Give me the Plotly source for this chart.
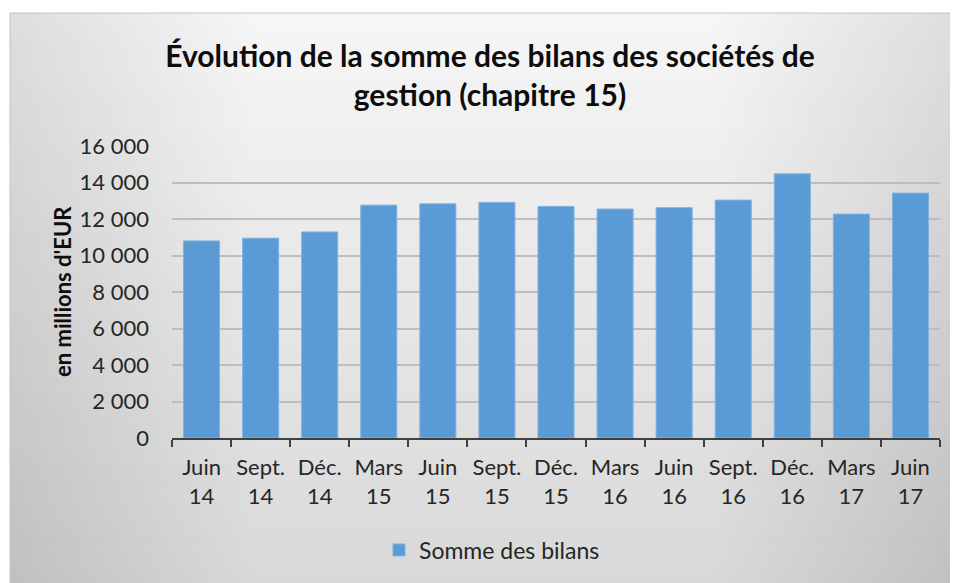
import plotly.graph_objects as go

categories = ["Juin<br>14", "Sept.<br>14", "Déc.<br>14", "Mars<br>15", "Juin<br>15", "Sept.<br>15",
              "Déc.<br>15", "Mars<br>16", "Juin<br>16", "Sept.<br>16", "Déc.<br>16", "Mars<br>17", "Juin<br>17"]
somme_des_bilans = [10800, 10950, 11290, 12760, 12830, 12910, 12690, 12545, 12620, 13035, 14475, 12270, 13420]
y_ticks = [0, 2000, 4000, 6000, 8000, 10000, 12000, 14000, 16000]

FONT = "Lato, Carlito, 'Open Sans', sans-serif"

OFF = 8  # browser body margin
W, H = 958 - OFF, 583 - OFF
# plot area in page pixels: x 172..940, y 146..438
L, R, T, B = 172 - OFF, W - (940 - OFF), 146 - OFF, H - (438 - OFF)
pw, ph = W - L - R, H - T - B

def px(x):  # page pixel -> paper
    return (x - OFF - L) / pw

def py(y):
    return (H - B - (y - OFF)) / ph

fig = go.Figure()
fig.add_trace(go.Bar(
    x=categories, y=somme_des_bilans, name="Somme des bilans",
    marker=dict(color="#5B9BD5", line=dict(color="#7fb2e0", width=1)),
))

shapes = []
box_x0, box_x1, box_y0, box_y1 = 10, 970, 13, 595
n = 40
def lerp(a, b, t):
    return int(round(a + (b - a) * t))
top = (246, 246, 246)
bot = (216, 216, 216)
for i in range(n):
    t = i / (n - 1)
    c = tuple(lerp(top[k], bot[k], t) for k in range(3))
    y0 = box_y0 + (box_y1 - box_y0) * i / n
    y1 = box_y0 + (box_y1 - box_y0) * (i + 1) / n
    shapes.append(dict(type="rect", xref="paper", yref="paper", layer="below",
                       x0=px(box_x0), x1=px(box_x1), y0=py(y1 + 0.5), y1=py(y0),
                       fillcolor="rgb(%d,%d,%d)" % c, line=dict(width=0)))
for j in range(24):
    a = 0.005
    w = 10 * (j + 1)
    shapes.append(dict(type="rect", xref="paper", yref="paper", layer="below",
                       x0=px(box_x0), x1=px(box_x0 + w), y0=py(box_y1), y1=py(box_y0),
                       fillcolor="rgba(0,0,0,%.3f)" % a, line=dict(width=0)))
    shapes.append(dict(type="rect", xref="paper", yref="paper", layer="below",
                       x0=px(958 - w), x1=px(box_x1), y0=py(box_y1), y1=py(box_y0),
                       fillcolor="rgba(0,0,0,%.3f)" % a, line=dict(width=0)))
shapes.append(dict(type="rect", xref="paper", yref="paper", layer="below",
                   x0=px(box_x0), x1=px(box_x1), y0=py(box_y1), y1=py(box_y0),
                   fillcolor="rgba(0,0,0,0)", line=dict(color="#c4c4c4", width=1)))

fig.update_layout(
    width=W, height=H,
    margin=dict(l=L, r=R, t=T, b=B),
    paper_bgcolor="white",
    plot_bgcolor="rgba(0,0,0,0)",
    separators=", ",
    shapes=shapes,
    bargap=0.39,
    font=dict(family=FONT, color="#262626", size=22),
    title=dict(text="<b>Évolution de la somme des bilans des sociétés de<br>gestion (chapitre 15)</b>",
               x=(490 - OFF) / W, xref="container", xanchor="center",
               y=1 - (67 - OFF) / H, yref="container", yanchor="middle",
               font=dict(family=FONT, size=30, color="#0d0d0d")),
    showlegend=True,
    legend=dict(orientation="h", x=px(492), xanchor="center", y=py(550), yanchor="middle",
                bgcolor="rgba(0,0,0,0)", font=dict(size=23, color="#262626")),
    xaxis=dict(type="category", showgrid=False, showline=True, linecolor="#404040", linewidth=1.5,
               ticks="outside", tickson="boundaries", ticklen=7, tickcolor="#404040", tickwidth=1.5,
               tickangle=0, tickfont=dict(size=22, color="#262626"), ticklabelstandoff=9),
    yaxis=dict(range=[0, 16000], tickvals=y_ticks, tickformat=",d", showgrid=True,
               gridcolor="#bdbdbd", gridwidth=1.5, showline=False, zeroline=False,
               ticks="", tickfont=dict(size=22, color="#262626"), ticklabelstandoff=22),
    annotations=[dict(text="<b>en millions d'EUR</b>", textangle=-90, xref="paper", yref="paper",
                      x=px(62), y=py(292), showarrow=False, xanchor="center", yanchor="middle",
                      font=dict(family=FONT, size=22, color="#0d0d0d"))],
)

fig.write_html("out.html")
